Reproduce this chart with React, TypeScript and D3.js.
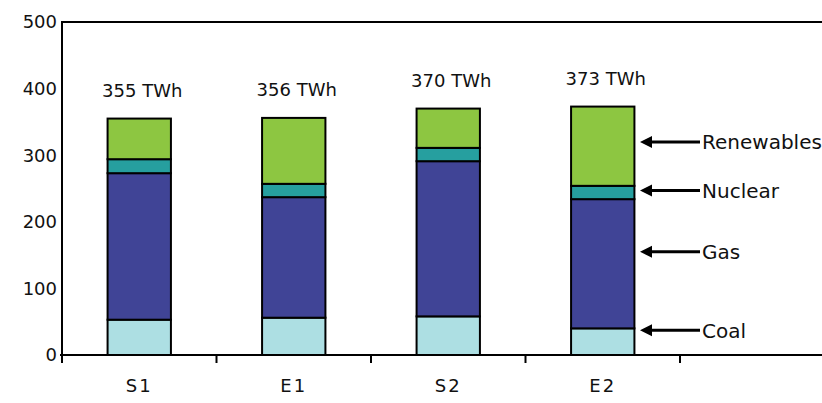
import React from "react";
import * as d3 from "d3";

const categories = ["S1", "E1", "S2", "E2"];
const seriesNames = ["Coal", "Gas", "Nuclear", "Renewables"];
const coal = [53, 56, 58, 40];
const gas = [220, 181, 233, 194];
const nuclear = [21, 20, 20, 20];
const renewables = [61, 99, 59, 119];
const totalLabels = ["355 TWh", "356 TWh", "370 TWh", "373 TWh"];
const yTicks = [0, 100, 200, 300, 400, 500];
const annotationNames = ["Renewables", "Nuclear", "Gas", "Coal"];
const annotationValues = [320, 247, 155, 37];

const colors: Record<string, string> = {
  Coal: "#ADDFE3",
  Gas: "#404496",
  Nuclear: "#269F9F",
  Renewables: "#8DC641",
};

export default function App() {
  const W = 822, H = 403;
  const left = 62, top = 22, bottom = 355, right = 834.5;
  const font = "'DejaVu Sans', sans-serif";

  const x = d3.scaleBand<string>().domain([...categories, "_"]).range([left, right]).padding(0);
  const y = d3.scaleLinear().domain([0, 500]).range([bottom, top]);

  const rows = categories.map((c, i) => ({
    cat: c,
    Coal: coal[i],
    Gas: gas[i],
    Nuclear: nuclear[i],
    Renewables: renewables[i],
  }));
  const stack = d3.stack<any>().keys(seriesNames)(rows);
  const bw = x.bandwidth() * 0.41;

  const bandEdges = [...categories, "_"].map((c) => x(c)!);

  const arrowTipX = 640;
  const arrowEndX = 700;

  return (
    <svg width={W} height={H} style={{ position: "absolute", left: 0, top: 0, background: "#fff" }} fontFamily={font}>
      {stack.map((s) =>
        s.map((d, i) => {
          const cx = x(categories[i])! + x.bandwidth() / 2;
          return (
            <rect
              key={s.key + i}
              x={cx - bw / 2}
              y={y(d[1])}
              width={bw}
              height={y(d[0]) - y(d[1])}
              fill={colors[s.key]}
              stroke="#000"
              strokeWidth={2}
            />
          );
        })
      )}
      <line x1={left} x2={W} y1={top} y2={top} stroke="#000" strokeWidth={2} />
      <line x1={left} x2={left} y1={top - 1} y2={bottom + 8} stroke="#000" strokeWidth={2} />
      <line x1={left - 2} x2={W} y1={bottom} y2={bottom} stroke="#000" strokeWidth={2} />
      {bandEdges.map((e, i) => (
        <line key={i} x1={e} x2={e} y1={bottom} y2={bottom + 8} stroke="#000" strokeWidth={2} />
      ))}
      {yTicks.map((t) => (
        <text key={t} x={57} y={y(t)} dy="0.36em" textAnchor="end" fontSize={18} fill="#111">
          {t}
        </text>
      ))}
      {categories.map((c) => (
        <text key={c} x={x(c)! + x.bandwidth() / 2} y={392} textAnchor="middle" fontSize={18} fill="#111" letterSpacing={2}>
          {c}
        </text>
      ))}
      {categories.map((c, i) => {
        const total = coal[i] + gas[i] + nuclear[i] + renewables[i];
        return (
          <text key={c} x={x(c)! + x.bandwidth() / 2 + 3} y={y(total) - 22} textAnchor="middle" fontSize={18} fill="#111">
            {totalLabels[i]}
          </text>
        );
      })}
      {annotationNames.map((n, i) => {
        const yy = y(annotationValues[i]);
        return (
          <g key={n}>
            <line x1={arrowTipX + 8} x2={arrowEndX} y1={yy} y2={yy} stroke="#000" strokeWidth={3} />
            <path d={`M${arrowTipX},${yy} L${arrowTipX + 12},${yy - 6} L${arrowTipX + 12},${yy + 6} Z`} fill="#000" />
            <text x={arrowEndX + 2} y={yy} dy="0.36em" fontSize={20} fill="#111">
              {n}
            </text>
          </g>
        );
      })}
    </svg>
  );
}
